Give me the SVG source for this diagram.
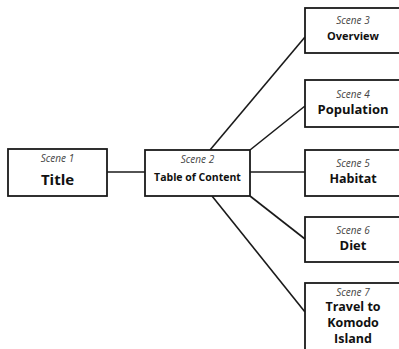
<svg xmlns="http://www.w3.org/2000/svg" width="399" height="349" viewBox="0 0 399 349">
<style>
.box{fill:#fff;stroke:#1a1a1a;stroke-width:1.8}
.ln{stroke:#1a1a1a;stroke-width:1.6;fill:none}
.sc{font-family:"Open Sans","Liberation Sans",sans-serif;font-style:italic;font-size:10px;fill:#444;text-anchor:middle}
.tt{font-family:"Open Sans","Liberation Sans",sans-serif;font-weight:bold;fill:#111;text-anchor:middle}
</style>
<rect width="399" height="349" fill="#fff"/>
<g id="connectors">
<line class="ln" x1="107" y1="172" x2="145" y2="172"/>
<line class="ln" x1="210" y1="150" x2="305" y2="37"/>
<line class="ln" x1="250" y1="150" x2="305" y2="106"/>
<line class="ln" x1="250" y1="172" x2="305" y2="172"/>
<line class="ln" x1="250" y1="196" x2="305" y2="239"/>
<line class="ln" x1="212" y1="196" x2="305" y2="312"/>
</g>
<g id="scene1">
<rect class="box" x="8" y="149" width="99" height="47"/>
<text class="sc" x="57.5" y="162">Scene 1</text>
<text class="tt" x="57.5" y="185" font-size="15">Title</text>
</g>
<g id="scene2">
<rect class="box" x="145" y="150" width="105" height="46"/>
<text class="sc" x="197.5" y="163">Scene 2</text>
<text class="tt" x="197.5" y="181" font-size="10.5">Table of Content</text>
</g>
<g id="scene3">
<rect class="box" x="305" y="8" width="96" height="45"/>
<text class="sc" x="353" y="24">Scene 3</text>
<text class="tt" x="353" y="40" font-size="11">Overview</text>
</g>
<g id="scene4">
<rect class="box" x="305" y="80" width="96" height="47"/>
<text class="sc" x="353" y="98">Scene 4</text>
<text class="tt" x="353" y="114" font-size="13">Population</text>
</g>
<g id="scene5">
<rect class="box" x="305" y="150" width="96" height="46"/>
<text class="sc" x="353" y="167">Scene 5</text>
<text class="tt" x="353" y="183" font-size="12.5">Habitat</text>
</g>
<g id="scene6">
<rect class="box" x="305" y="217" width="96" height="45"/>
<text class="sc" x="353" y="234">Scene 6</text>
<text class="tt" x="353" y="250" font-size="13">Diet</text>
</g>
<g id="scene7">
<rect class="box" x="305" y="283" width="96" height="80"/>
<text class="sc" x="353" y="296">Scene 7</text>
<text class="tt" x="353" y="311" font-size="12.5">Travel to</text>
<text class="tt" x="353" y="327" font-size="12.5">Komodo</text>
<text class="tt" x="353" y="343" font-size="12.5">Island</text>
</g>
</svg>
